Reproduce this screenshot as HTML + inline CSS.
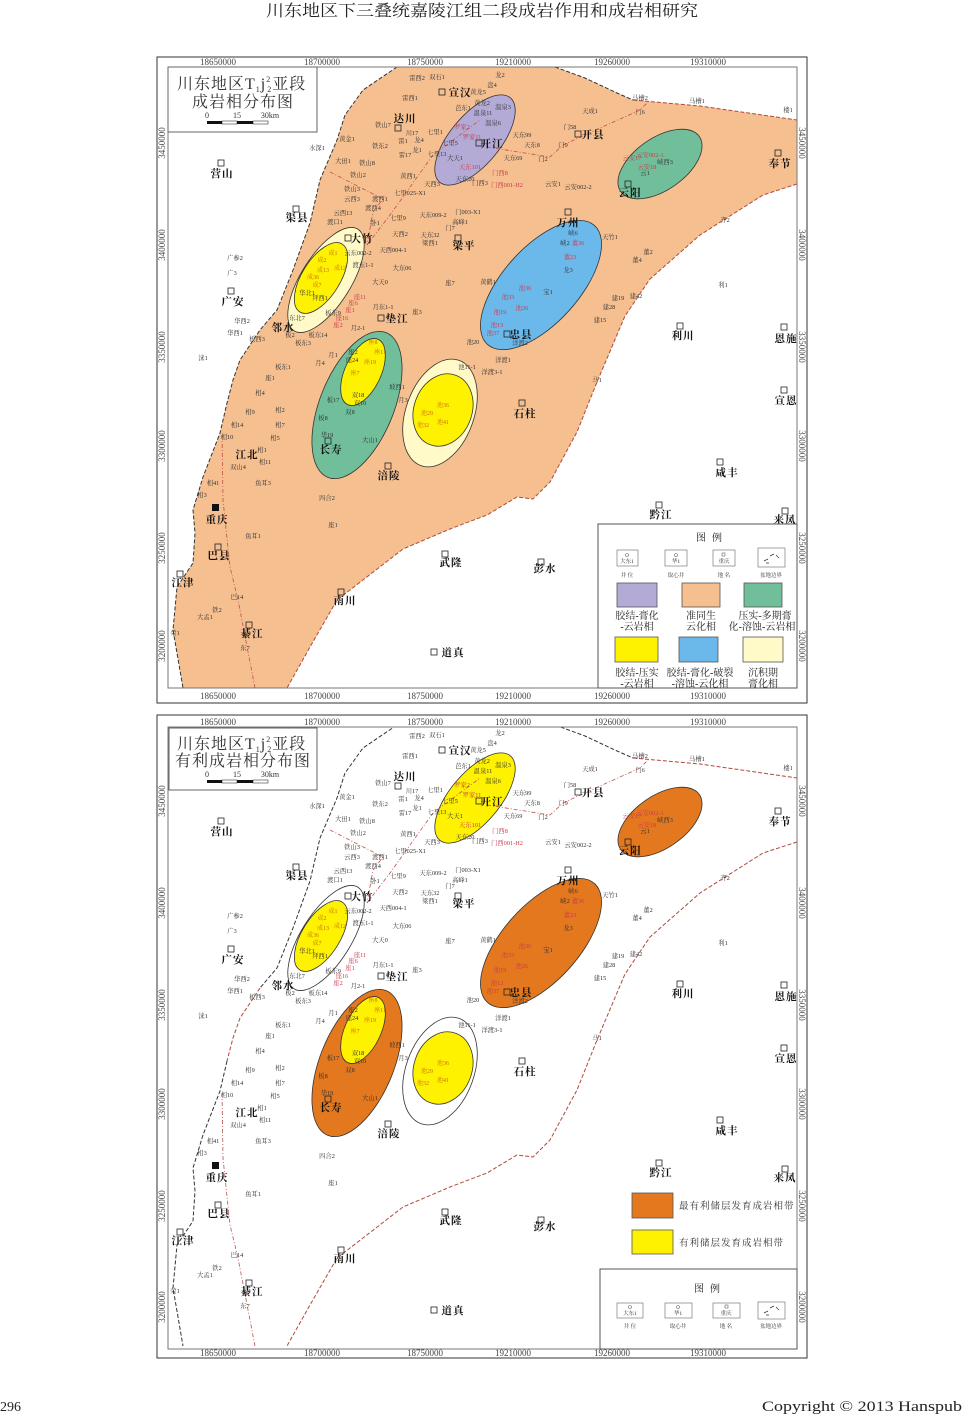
<!DOCTYPE html>
<html><head><meta charset="utf-8"><style>
html,body{margin:0;padding:0;background:#fff;}
svg{display:block;}
.w{font-size:6.3px;fill:#333;text-anchor:middle;}
.r{font-size:6.3px;fill:#cc3a4a;text-anchor:middle;}
.o{font-size:6px;fill:#c86a10;text-anchor:middle;}
.p{font-size:10.5px;fill:#111;text-anchor:middle;font-weight:700;letter-spacing:1px;}
.t{font-size:9px;fill:#444;text-anchor:middle;font-family:"Liberation Serif",serif;}
.lg{font-size:10px;fill:#222;text-anchor:middle;}
.sm{font-size:5.5px;fill:#333;text-anchor:middle;}
</style></head><body>
<svg width="964" height="1414" viewBox="0 0 964 1414" xmlns="http://www.w3.org/2000/svg" font-family="'Liberation Serif','Noto Serif CJK SC',serif">
<defs>
<clipPath id="c1"><rect x="168" y="67" width="629" height="621"/></clipPath>
<clipPath id="c2"><rect x="168" y="727" width="629" height="622"/></clipPath>
</defs>

<text x="482" y="16" text-anchor="middle" font-size="16" fill="#222" textLength="432" lengthAdjust="spacingAndGlyphs">川东地区下三叠统嘉陵江组二段成岩作用和成岩相研究</text>

<!-- ================= MAP 1 ================= -->
<rect x="157" y="57" width="650" height="646" fill="#fff" stroke="#333" stroke-width="1"/>
<g clip-path="url(#c1)">
<path d="M397,67 L555,67 L585,78 L617,93 L633,100 L700,106 L797,120 L797,184 L763,195 L700,235 L650,279 L625,316 L597,382 L577,432 L550,482 L533,499 L517,497 L487,515 L450,529 L403,549 L363,580 L337,600 L310,647 L287,688 L183,688 L173,630 L177,587 L193,563 L195,533 L193,510 L203,477 L220,433 L227,403 L233,380 L240,360 L260,330 L277,310 L293,270 L310,223 L320,180 L337,140 L345,115 L363,90 Z" fill="#F5BF90"/>
<polyline points="397,67 363,90 345,115 337,140 320,180 310,223 293,270 277,310 260,330 240,360 233,380 227,403 220,433 203,477 193,510 195,533 193,563 177,587 173,630 183,688" fill="none" stroke="#333" stroke-width="1" stroke-dasharray="4,2"/>
<polyline points="555,67 585,78 617,93 633,100" fill="none" stroke="#333" stroke-width="1" stroke-dasharray="4,2"/>
<polyline points="633,100 700,106 797,120" fill="none" stroke="#b04a3a" stroke-width="1" stroke-dasharray="4,2"/>
<polyline points="797,184 763,195 700,235 650,279 625,316 597,382 577,432 550,482 533,499 517,497 487,515 450,529 403,549 363,580 337,600 310,647 287,688" fill="none" stroke="#b04a3a" stroke-width="1" stroke-dasharray="4,2"/>
<ellipse cx="326" cy="280" rx="60" ry="25" transform="rotate(-58 326 280)" fill="#FFFAC8" stroke="#333" stroke-width="0.8"/>
<ellipse cx="321" cy="278" rx="40" ry="19" transform="rotate(-58 321 278)" fill="#FFF200" stroke="#333" stroke-width="0.8"/>
<ellipse cx="541" cy="285" rx="80" ry="38" transform="rotate(-48 541 285)" fill="#6BB8EA" stroke="#333" stroke-width="0.8"/>
<ellipse cx="357" cy="405" rx="78" ry="37" transform="rotate(-68 357 405)" fill="#70BE9A" stroke="#333" stroke-width="0.8"/>
<ellipse cx="363" cy="372" rx="36" ry="18" transform="rotate(-65 363 372)" fill="#FFF200" stroke="#333" stroke-width="0.8"/>
<ellipse cx="440" cy="413" rx="56" ry="34" transform="rotate(-70 440 413)" fill="#FFFAC8" stroke="#333" stroke-width="0.8"/>
<ellipse cx="443" cy="410" rx="37" ry="29" transform="rotate(-70 443 410)" fill="#FFF200" stroke="#333" stroke-width="0.8"/>
<ellipse cx="475" cy="140" rx="55" ry="25" transform="rotate(-50 475 140)" fill="#B3ABD6" stroke="#333" stroke-width="0.8"/>
<ellipse cx="660" cy="164" rx="48" ry="26" transform="rotate(-35 660 164)" fill="#70BE9A" stroke="#333" stroke-width="0.8"/>
<g fill="none" stroke="#c0504a" stroke-width="0.8" stroke-dasharray="4,2,1,2">
<polyline points="330,172 383,199 373,212 367,245"/>
<polyline points="367,245 390,215 433,155 480,120"/>
<polyline points="487,147 550,157 563,145 600,128 640,110 650,100"/>
<polyline points="222,435 223,500 230,567 238,600 255,688"/>
</g>
</g>
<rect x="168" y="67" width="629" height="621" fill="none" stroke="#777" stroke-width="1"/>

<g class="t">
<text x="218" y="65">18650000</text><text x="322" y="65">18700000</text><text x="425" y="65">18750000</text><text x="513" y="65">19210000</text><text x="612" y="65">19260000</text><text x="708" y="65">19310000</text>
<text x="218" y="699">18650000</text><text x="322" y="699">18700000</text><text x="425" y="699">18750000</text><text x="513" y="699">19210000</text><text x="612" y="699">19260000</text><text x="708" y="699">19310000</text>
<text transform="translate(165,143) rotate(-90)">3450000</text>
<text transform="translate(165,245) rotate(-90)">3400000</text>
<text transform="translate(165,347) rotate(-90)">3350000</text>
<text transform="translate(165,446) rotate(-90)">3300000</text>
<text transform="translate(165,548) rotate(-90)">3250000</text>
<text transform="translate(165,646) rotate(-90)">3200000</text>
<text transform="translate(799,143) rotate(90)">3450000</text>
<text transform="translate(799,245) rotate(90)">3400000</text>
<text transform="translate(799,347) rotate(90)">3350000</text>
<text transform="translate(799,446) rotate(90)">3300000</text>
<text transform="translate(799,548) rotate(90)">3250000</text>
<text transform="translate(799,646) rotate(90)">3200000</text>
</g>

<rect x="168" y="67" width="149" height="65" fill="#fff" stroke="#666" stroke-width="1"/>
<text x="177" y="89" font-size="16" fill="#333" letter-spacing="1">川东地区T<tspan font-size="8" dy="3">1</tspan><tspan dy="-3">j</tspan><tspan font-size="8" dy="-7">2</tspan><tspan font-size="8" dx="-4" dy="10">2</tspan><tspan dy="-3">亚段</tspan></text>
<text x="243" y="107" font-size="16" fill="#333" text-anchor="middle" letter-spacing="1">成岩相分布图</text>
<g>
<rect x="207" y="121" width="15" height="3" fill="#111"/><rect x="222" y="121" width="15" height="3" fill="#fff" stroke="#111" stroke-width="0.5"/><rect x="237" y="121" width="16" height="3" fill="#111"/><rect x="253" y="121" width="15" height="3" fill="#fff" stroke="#111" stroke-width="0.5"/>
<text x="207" y="118" font-size="8" fill="#333" text-anchor="middle">0</text><text x="237" y="118" font-size="8" fill="#333" text-anchor="middle">15</text><text x="270" y="118" font-size="8" fill="#333" text-anchor="middle">30km</text>
</g>

<g>
<text class="w" x="417" y="80">雷西2</text><text class="w" x="437" y="79">双石1</text><text class="w" x="410" y="100">雷西1</text><text class="w" x="383" y="127">铁山7</text><text class="w" x="412" y="135">川17</text><text class="w" x="435" y="134">七里1</text><text class="w" x="403" y="143">雷1</text><text class="w" x="419" y="142">龙4</text><text class="w" x="417" y="152">龙1</text><text class="w" x="405" y="157">雷17</text><text class="w" x="437" y="156">七里13</text><text class="w" x="450" y="145">七里5</text><text class="w" x="455" y="160">大天1</text><text class="w" x="347" y="141">黄金1</text><text class="w" x="380" y="148">铁东2</text><text class="w" x="317" y="150">水深1</text><text class="w" x="343" y="163">大田1</text><text class="w" x="367" y="165">铁山8</text><text class="w" x="358" y="177">铁山2</text><text class="w" x="408" y="178">黄西1</text><text class="w" x="432" y="186">天西3</text><text class="w" x="465" y="181">天东20</text><text class="w" x="480" y="185">门西3</text><text class="w" x="352" y="191">铁山3</text><text class="w" x="352" y="201">云西3</text><text class="w" x="410" y="195">七里025-X1</text><text class="w" x="380" y="201">渡西1</text><text class="w" x="373" y="210">渡西4</text><text class="w" x="343" y="215">云西13</text><text class="w" x="335" y="224">渡口1</text><text class="w" x="375" y="225">卧1</text><text class="w" x="398" y="220">七里9</text><text class="w" x="433" y="217">天东009-2</text><text class="w" x="468" y="214">门003-X1</text><text class="w" x="460" y="224">高峰1</text><text class="w" x="450" y="230">门7</text><text class="w" x="400" y="236">天西2</text><text class="w" x="430" y="237">天东32</text><text class="w" x="430" y="245">梁西1</text><text class="w" x="500" y="77">龙2</text><text class="w" x="492" y="87">盘4</text><text class="w" x="478" y="94">黄龙5</text><text class="w" x="463" y="110">芭东1</text><text class="w" x="482" y="105">黄龙2</text><text class="w" x="503" y="109">温泉3</text><text class="w" x="483" y="115">温泉11</text><text class="w" x="493" y="125">温泉6</text><text class="w" x="522" y="137">天东99</text><text class="w" x="532" y="147">天东8</text><text class="w" x="513" y="160">天东69</text><text class="w" x="543" y="161">门2</text><text class="w" x="640" y="100">马槽2</text><text class="w" x="697" y="103">马槽1</text><text class="w" x="788" y="112">楼1</text><text class="w" x="590" y="113">天成1</text><text class="w" x="640" y="114">门6</text><text class="w" x="570" y="129">门58</text><text class="w" x="563" y="147">门9</text><text class="w" x="578" y="189">云安002-2</text><text class="w" x="553" y="186">云安1</text><text class="w" x="725" y="222">齐2</text><text class="w" x="610" y="239">天竹1</text><text class="w" x="573" y="235">峡6</text><text class="w" x="565" y="245">峡2</text><text class="w" x="648" y="254">董2</text><text class="w" x="637" y="262">董4</text><text class="w" x="723" y="287">利1</text><text class="w" x="618" y="300">建19</text><text class="w" x="636" y="298">建42</text><text class="w" x="609" y="309">建28</text><text class="w" x="600" y="322">建15</text><text class="w" x="333" y="315">板东9</text><text class="w" x="318" y="337">板东14</text><text class="w" x="303" y="345">板东3</text><text class="w" x="333" y="357">月1</text><text class="w" x="320" y="365">月4</text><text class="w" x="283" y="369">板东1</text><text class="w" x="503" y="362">洋渡1</text><text class="w" x="492" y="374">洋渡3-1</text><text class="w" x="467" y="369">池11-1</text><text class="w" x="473" y="344">池20</text><text class="w" x="520" y="345">洋渡2</text><text class="w" x="397" y="389">坡西1</text><text class="w" x="403" y="402">月3</text><text class="w" x="370" y="442">大山1</text><text class="w" x="380" y="284">大天0</text><text class="w" x="402" y="270">大东06</text><text class="w" x="363" y="267">渡东1-1</text><text class="w" x="393" y="252">天西004-1</text><text class="w" x="358" y="255">云东002-2</text><text class="w" x="450" y="285">座7</text><text class="w" x="417" y="314">座3</text><text class="w" x="383" y="309">月东1-1</text><text class="w" x="358" y="330">月2-1</text><text class="w" x="297" y="320">东北7</text><text class="w" x="290" y="337">板2</text><text class="w" x="488" y="284">黄鹤1</text><text class="w" x="597" y="382">马1</text><text class="w" x="250" y="414">相9</text><text class="w" x="280" y="412">相2</text><text class="w" x="237" y="427">相14</text><text class="w" x="280" y="427">相7</text><text class="w" x="227" y="439">相10</text><text class="w" x="275" y="440">相5</text><text class="w" x="262" y="452">相1</text><text class="w" x="265" y="464">相11</text><text class="w" x="238" y="469">双山4</text><text class="w" x="213" y="485">相41</text><text class="w" x="202" y="497">相3</text><text class="w" x="263" y="485">鱼耳3</text><text class="w" x="327" y="500">四合2</text><text class="w" x="333" y="527">座1</text><text class="w" x="253" y="538">鱼耳1</text><text class="w" x="237" y="599">巴14</text><text class="w" x="217" y="612">铁2</text><text class="w" x="205" y="619">大孟1</text><text class="w" x="175" y="635">荣1</text><text class="w" x="245" y="650">东7</text><text class="w" x="235" y="260">广参2</text><text class="w" x="232" y="275">广3</text><text class="w" x="242" y="323">华西2</text><text class="w" x="235" y="335">华西1</text><text class="w" x="257" y="341">板西3</text><text class="w" x="203" y="360">涞1</text><text class="w" x="270" y="380">座1</text><text class="w" x="260" y="395">相4</text><text class="w" x="568" y="272">龙3</text><text class="w" x="548" y="294">宝1</text><text class="w" x="307" y="295">华北1</text><text class="w" x="320" y="300">拜西1</text><text class="w" x="353" y="354">座2</text><text class="w" x="352" y="362">座24</text><text class="w" x="358" y="397">双18</text><text class="w" x="360" y="405">双10</text><text class="w" x="350" y="414">双8</text><text class="w" x="333" y="402">板17</text><text class="w" x="323" y="420">板8</text><text class="w" x="327" y="437">华19</text><text class="w" x="665" y="164">峡西3</text><text class="w" x="645" y="175">云1</text>
<text class="r" x="525" y="290">池36</text><text class="r" x="508" y="299">池33</text><text class="r" x="500" y="314">池19</text><text class="r" x="522" y="310">池26</text><text class="r" x="497" y="327">池13</text><text class="r" x="493" y="335">池37</text><text class="r" x="578" y="245">董36</text><text class="r" x="570" y="259">董23</text><text class="r" x="360" y="299">座11</text><text class="r" x="353" y="305">座6</text><text class="r" x="350" y="312">座1</text><text class="r" x="342" y="320">座16</text><text class="r" x="338" y="327">座2</text><text class="r" x="470" y="169">天东101</text><text class="r" x="500" y="175">门西8</text><text class="r" x="507" y="187">门西001-H2</text><text class="r" x="462" y="129">罗家2</text><text class="r" x="472" y="139">罗家11</text><text class="r" x="650" y="157">云安002-1</text><text class="r" x="632" y="160">云安17</text><text class="r" x="647" y="169">云安18</text>
<text class="o" x="333" y="255">成1</text><text class="o" x="322" y="262">成2</text><text class="o" x="323" y="272">成13</text><text class="o" x="340" y="270">成12</text><text class="o" x="313" y="279">成36</text><text class="o" x="317" y="287">成7</text><text class="o" x="373" y="344">座8</text><text class="o" x="380" y="354">座11</text><text class="o" x="370" y="364">座19</text><text class="o" x="355" y="375">座7</text><text class="o" x="443" y="407">池36</text><text class="o" x="427" y="415">池29</text><text class="o" x="443" y="424">池41</text><text class="o" x="423" y="427">池32</text>
</g>

<g fill="none" stroke="#222" stroke-width="0.8">
<rect x="439" y="89" width="6" height="6"/><rect x="395" y="125" width="6" height="6"/><rect x="476" y="140" width="6" height="6"/><rect x="218" y="160" width="6" height="6"/><rect x="293" y="206" width="6" height="6"/><rect x="345" y="235" width="6" height="6"/><rect x="455" y="235" width="6" height="6"/><rect x="378" y="315" width="6" height="6"/><rect x="228" y="288" width="6" height="6"/><rect x="504" y="331" width="6" height="6"/><rect x="565" y="209" width="6" height="6"/><rect x="575" y="131" width="6" height="6"/><rect x="625" y="181" width="6" height="6"/><rect x="775" y="150" width="6" height="6"/><rect x="677" y="323" width="6" height="6"/><rect x="781" y="324" width="6" height="6"/><rect x="781" y="387" width="6" height="6"/><rect x="519" y="400" width="6" height="6"/><rect x="325" y="438" width="6" height="6"/><rect x="385" y="463" width="6" height="6"/><rect x="215" y="544" width="6" height="6"/><rect x="177" y="571" width="6" height="6"/><rect x="338" y="589" width="6" height="6"/><rect x="246" y="622" width="6" height="6"/><rect x="442" y="551" width="6" height="6"/><rect x="538" y="559" width="6" height="6"/><rect x="431" y="649" width="6" height="6"/><rect x="717" y="459" width="6" height="6"/><rect x="656" y="502" width="6" height="6"/><rect x="782" y="508" width="6" height="6"/>
</g>
<rect x="212" y="504" width="7" height="7" fill="#111"/>
<g class="p">
<text x="460" y="96">宣汉</text><text x="405" y="122">达川</text><text x="492" y="147">开江</text><text x="222" y="177">营山</text><text x="297" y="221">渠县</text><text x="362" y="242">大竹</text><text x="464" y="249">梁平</text><text x="397" y="322">垫江</text><text x="233" y="305">广安</text><text x="283" y="331">邻水</text><text x="521" y="338">忠县</text><text x="568" y="226">万州</text><text x="593" y="138">开县</text><text x="630" y="196">云阳</text><text x="780" y="167">奉节</text><text x="683" y="339">利川</text><text x="786" y="342">恩施</text><text x="786" y="404">宣恩</text><text x="525" y="417">石柱</text><text x="331" y="453">长寿</text><text x="389" y="479">涪陵</text><text x="247" y="458">江北</text><text x="217" y="523">重庆</text><text x="219" y="559">巴县</text><text x="183" y="586">江津</text><text x="345" y="604">南川</text><text x="252" y="637">綦江</text><text x="451" y="566">武隆</text><text x="545" y="572">彭水</text><text x="453" y="656">道真</text><text x="727" y="476">咸丰</text><text x="661" y="518">黔江</text><text x="785" y="523">来凤</text>
</g>

<rect x="598" y="524" width="199" height="164" fill="#fff" stroke="#555" stroke-width="1"/>
<text class="lg" x="712" y="541" letter-spacing="6">图例</text>
<g fill="#fff" stroke="#666" stroke-width="0.6">
<rect x="617" y="550" width="21" height="16"/><rect x="665" y="550" width="22" height="16"/><rect x="713" y="550" width="22" height="16"/><rect x="758" y="548" width="27" height="19"/>
<circle cx="627" cy="555" r="1.5"/><circle cx="676" cy="555" r="1.5"/><rect x="722" y="553" width="3" height="3"/>
</g>
<path d="M764,561 l4,-2 M770,556 l4,-2 M776,555 l3,3 M766,563 l3,0" stroke="#333" stroke-width="0.7" fill="none"/>
<text class="sm" x="627" y="563" font-size="4.5">大东1</text><text class="sm" x="676" y="563" font-size="4.5" fill="#c33">华1</text><text class="sm" x="724" y="563" font-size="4.5">重庆</text>
<text class="sm" x="627" y="577">井 位</text><text class="sm" x="676" y="577">取心井</text><text class="sm" x="724" y="577">地 名</text><text class="sm" x="771" y="577">盆地边界</text>
<rect x="617" y="583" width="40" height="24" fill="#B3ABD6" stroke="#555" stroke-width="0.8"/>
<rect x="682" y="583" width="38" height="24" fill="#F5BF90" stroke="#555" stroke-width="0.8"/>
<rect x="744" y="583" width="38" height="24" fill="#70BE9A" stroke="#555" stroke-width="0.8"/>
<rect x="615" y="637" width="43" height="25" fill="#FFF200" stroke="#555" stroke-width="0.8"/>
<rect x="679" y="637" width="39" height="25" fill="#6BB8EA" stroke="#555" stroke-width="0.8"/>
<rect x="743" y="637" width="40" height="25" fill="#FFFAC8" stroke="#555" stroke-width="0.8"/>
<g class="lg">
<text x="637" y="619">胶结-膏化</text><text x="637" y="630">-云岩相</text>
<text x="701" y="619">准同生</text><text x="701" y="630">云化相</text>
<text x="765" y="619">压实-多期膏</text><text x="762" y="630">化-溶蚀-云岩相</text>
<text x="637" y="676">胶结-压实</text><text x="637" y="687">-云岩相</text>
<text x="700" y="676">胶结-膏化-破裂</text><text x="700" y="687">-溶蚀-云化相</text>
<text x="763" y="676">沉积期</text><text x="763" y="687">膏化相</text>
</g>

<!-- ================= MAP 2 ================= -->
<rect x="157" y="715" width="650" height="643" fill="#fff" stroke="#333" stroke-width="1"/>
<g clip-path="url(#c2)">
<g transform="translate(0,658)">
<polyline points="397,67 363,90 345,115 337,140 320,180 310,223 293,270 277,310 260,330" fill="none" stroke="#333" stroke-width="1" stroke-dasharray="4,2"/>
<polyline points="260,330 240,360 233,380 227,403" fill="none" stroke="#b04a3a" stroke-width="1" stroke-dasharray="4,2"/>
<polyline points="227,403 220,433 203,477 193,510 195,533 193,563 177,587 173,630 183,688" fill="none" stroke="#333" stroke-width="1" stroke-dasharray="4,2"/>
<polyline points="555,67 585,78 617,93 633,100" fill="none" stroke="#333" stroke-width="1" stroke-dasharray="4,2"/>
<polyline points="633,100 700,106 797,120" fill="none" stroke="#b04a3a" stroke-width="1" stroke-dasharray="4,2"/>
<polyline points="797,184 763,195 700,235 650,279 625,316 597,382 577,432 550,482 533,499 517,497 487,515 450,529 403,549 363,580 337,600 310,647 287,688" fill="none" stroke="#b04a3a" stroke-width="1" stroke-dasharray="4,2"/>
<ellipse cx="326" cy="280" rx="60" ry="25" transform="rotate(-58 326 280)" fill="#fff" stroke="#333" stroke-width="0.8"/>
<ellipse cx="321" cy="278" rx="40" ry="19" transform="rotate(-58 321 278)" fill="#FFF200" stroke="#333" stroke-width="0.8"/>
<ellipse cx="541" cy="285" rx="80" ry="38" transform="rotate(-48 541 285)" fill="#E3781E" stroke="#333" stroke-width="0.8"/>
<ellipse cx="357" cy="405" rx="78" ry="37" transform="rotate(-68 357 405)" fill="#E3781E" stroke="#333" stroke-width="0.8"/>
<ellipse cx="363" cy="372" rx="36" ry="18" transform="rotate(-65 363 372)" fill="#FFF200" stroke="#333" stroke-width="0.8"/>
<ellipse cx="440" cy="413" rx="56" ry="34" transform="rotate(-70 440 413)" fill="#fff" stroke="#333" stroke-width="0.8"/>
<ellipse cx="443" cy="410" rx="37" ry="29" transform="rotate(-70 443 410)" fill="#FFF200" stroke="#333" stroke-width="0.8"/>
<ellipse cx="475" cy="140" rx="55" ry="25" transform="rotate(-50 475 140)" fill="#FFF200" stroke="#333" stroke-width="0.8"/>
<ellipse cx="660" cy="164" rx="48" ry="26" transform="rotate(-35 660 164)" fill="#E3781E" stroke="#333" stroke-width="0.8"/>
<g fill="none" stroke="#c0504a" stroke-width="0.8" stroke-dasharray="4,2,1,2">
<polyline points="330,172 383,199 373,212 367,245"/>
<polyline points="367,245 390,215 433,155 480,120"/>
<polyline points="487,147 550,157 563,145 600,128 640,110 650,100"/>
<polyline points="222,435 223,500 230,567 238,600 255,688"/>
</g>
<text class="w" x="417" y="80">雷西2</text><text class="w" x="437" y="79">双石1</text><text class="w" x="410" y="100">雷西1</text><text class="w" x="383" y="127">铁山7</text><text class="w" x="412" y="135">川17</text><text class="w" x="435" y="134">七里1</text><text class="w" x="403" y="143">雷1</text><text class="w" x="419" y="142">龙4</text><text class="w" x="417" y="152">龙1</text><text class="w" x="405" y="157">雷17</text><text class="w" x="437" y="156">七里13</text><text class="w" x="450" y="145">七里5</text><text class="w" x="455" y="160">大天1</text><text class="w" x="347" y="141">黄金1</text><text class="w" x="380" y="148">铁东2</text><text class="w" x="317" y="150">水深1</text><text class="w" x="343" y="163">大田1</text><text class="w" x="367" y="165">铁山8</text><text class="w" x="358" y="177">铁山2</text><text class="w" x="408" y="178">黄西1</text><text class="w" x="432" y="186">天西3</text><text class="w" x="465" y="181">天东20</text><text class="w" x="480" y="185">门西3</text><text class="w" x="352" y="191">铁山3</text><text class="w" x="352" y="201">云西3</text><text class="w" x="410" y="195">七里025-X1</text><text class="w" x="380" y="201">渡西1</text><text class="w" x="373" y="210">渡西4</text><text class="w" x="343" y="215">云西13</text><text class="w" x="335" y="224">渡口1</text><text class="w" x="375" y="225">卧1</text><text class="w" x="398" y="220">七里9</text><text class="w" x="433" y="217">天东009-2</text><text class="w" x="468" y="214">门003-X1</text><text class="w" x="460" y="224">高峰1</text><text class="w" x="450" y="230">门7</text><text class="w" x="400" y="236">天西2</text><text class="w" x="430" y="237">天东32</text><text class="w" x="430" y="245">梁西1</text><text class="w" x="500" y="77">龙2</text><text class="w" x="492" y="87">盘4</text><text class="w" x="478" y="94">黄龙5</text><text class="w" x="463" y="110">芭东1</text><text class="w" x="482" y="105">黄龙2</text><text class="w" x="503" y="109">温泉3</text><text class="w" x="483" y="115">温泉11</text><text class="w" x="493" y="125">温泉6</text><text class="w" x="522" y="137">天东99</text><text class="w" x="532" y="147">天东8</text><text class="w" x="513" y="160">天东69</text><text class="w" x="543" y="161">门2</text><text class="w" x="640" y="100">马槽2</text><text class="w" x="697" y="103">马槽1</text><text class="w" x="788" y="112">楼1</text><text class="w" x="590" y="113">天成1</text><text class="w" x="640" y="114">门6</text><text class="w" x="570" y="129">门58</text><text class="w" x="563" y="147">门9</text><text class="w" x="578" y="189">云安002-2</text><text class="w" x="553" y="186">云安1</text><text class="w" x="725" y="222">齐2</text><text class="w" x="610" y="239">天竹1</text><text class="w" x="573" y="235">峡6</text><text class="w" x="565" y="245">峡2</text><text class="w" x="648" y="254">董2</text><text class="w" x="637" y="262">董4</text><text class="w" x="723" y="287">利1</text><text class="w" x="618" y="300">建19</text><text class="w" x="636" y="298">建42</text><text class="w" x="609" y="309">建28</text><text class="w" x="600" y="322">建15</text><text class="w" x="333" y="315">板东9</text><text class="w" x="318" y="337">板东14</text><text class="w" x="303" y="345">板东3</text><text class="w" x="333" y="357">月1</text><text class="w" x="320" y="365">月4</text><text class="w" x="283" y="369">板东1</text><text class="w" x="503" y="362">洋渡1</text><text class="w" x="492" y="374">洋渡3-1</text><text class="w" x="467" y="369">池11-1</text><text class="w" x="473" y="344">池20</text><text class="w" x="520" y="345">洋渡2</text><text class="w" x="397" y="389">坡西1</text><text class="w" x="403" y="402">月3</text><text class="w" x="370" y="442">大山1</text><text class="w" x="380" y="284">大天0</text><text class="w" x="402" y="270">大东06</text><text class="w" x="363" y="267">渡东1-1</text><text class="w" x="393" y="252">天西004-1</text><text class="w" x="358" y="255">云东002-2</text><text class="w" x="450" y="285">座7</text><text class="w" x="417" y="314">座3</text><text class="w" x="383" y="309">月东1-1</text><text class="w" x="358" y="330">月2-1</text><text class="w" x="297" y="320">东北7</text><text class="w" x="290" y="337">板2</text><text class="w" x="488" y="284">黄鹤1</text><text class="w" x="597" y="382">马1</text><text class="w" x="250" y="414">相9</text><text class="w" x="280" y="412">相2</text><text class="w" x="237" y="427">相14</text><text class="w" x="280" y="427">相7</text><text class="w" x="227" y="439">相10</text><text class="w" x="275" y="440">相5</text><text class="w" x="262" y="452">相1</text><text class="w" x="265" y="464">相11</text><text class="w" x="238" y="469">双山4</text><text class="w" x="213" y="485">相41</text><text class="w" x="202" y="497">相3</text><text class="w" x="263" y="485">鱼耳3</text><text class="w" x="327" y="500">四合2</text><text class="w" x="333" y="527">座1</text><text class="w" x="253" y="538">鱼耳1</text><text class="w" x="237" y="599">巴14</text><text class="w" x="217" y="612">铁2</text><text class="w" x="205" y="619">大孟1</text><text class="w" x="175" y="635">荣1</text><text class="w" x="245" y="650">东7</text><text class="w" x="235" y="260">广参2</text><text class="w" x="232" y="275">广3</text><text class="w" x="242" y="323">华西2</text><text class="w" x="235" y="335">华西1</text><text class="w" x="257" y="341">板西3</text><text class="w" x="203" y="360">涞1</text><text class="w" x="270" y="380">座1</text><text class="w" x="260" y="395">相4</text><text class="w" x="568" y="272">龙3</text><text class="w" x="548" y="294">宝1</text><text class="w" x="307" y="295">华北1</text><text class="w" x="320" y="300">拜西1</text><text class="w" x="353" y="354">座2</text><text class="w" x="352" y="362">座24</text><text class="w" x="358" y="397">双18</text><text class="w" x="360" y="405">双10</text><text class="w" x="350" y="414">双8</text><text class="w" x="333" y="402">板17</text><text class="w" x="323" y="420">板8</text><text class="w" x="327" y="437">华19</text><text class="w" x="665" y="164">峡西3</text><text class="w" x="645" y="175">云1</text>
<text class="r" x="525" y="290">池36</text><text class="r" x="508" y="299">池33</text><text class="r" x="500" y="314">池19</text><text class="r" x="522" y="310">池26</text><text class="r" x="497" y="327">池13</text><text class="r" x="493" y="335">池37</text><text class="r" x="578" y="245">董36</text><text class="r" x="570" y="259">董23</text><text class="r" x="360" y="299">座11</text><text class="r" x="353" y="305">座6</text><text class="r" x="350" y="312">座1</text><text class="r" x="342" y="320">座16</text><text class="r" x="338" y="327">座2</text><text class="r" x="470" y="169">天东101</text><text class="r" x="500" y="175">门西8</text><text class="r" x="507" y="187">门西001-H2</text><text class="r" x="462" y="129">罗家2</text><text class="r" x="472" y="139">罗家11</text><text class="r" x="650" y="157">云安002-1</text><text class="r" x="632" y="160">云安17</text><text class="r" x="647" y="169">云安18</text>
<text class="o" x="333" y="255">成1</text><text class="o" x="322" y="262">成2</text><text class="o" x="323" y="272">成13</text><text class="o" x="340" y="270">成12</text><text class="o" x="313" y="279">成36</text><text class="o" x="317" y="287">成7</text><text class="o" x="373" y="344">座8</text><text class="o" x="380" y="354">座11</text><text class="o" x="370" y="364">座19</text><text class="o" x="355" y="375">座7</text><text class="o" x="443" y="407">池36</text><text class="o" x="427" y="415">池29</text><text class="o" x="443" y="424">池41</text><text class="o" x="423" y="427">池32</text>
<g fill="none" stroke="#222" stroke-width="0.8">
<rect x="439" y="89" width="6" height="6"/><rect x="395" y="125" width="6" height="6"/><rect x="476" y="140" width="6" height="6"/><rect x="218" y="160" width="6" height="6"/><rect x="293" y="206" width="6" height="6"/><rect x="345" y="235" width="6" height="6"/><rect x="455" y="235" width="6" height="6"/><rect x="378" y="315" width="6" height="6"/><rect x="228" y="288" width="6" height="6"/><rect x="504" y="331" width="6" height="6"/><rect x="565" y="209" width="6" height="6"/><rect x="575" y="131" width="6" height="6"/><rect x="625" y="181" width="6" height="6"/><rect x="775" y="150" width="6" height="6"/><rect x="677" y="323" width="6" height="6"/><rect x="781" y="324" width="6" height="6"/><rect x="781" y="387" width="6" height="6"/><rect x="519" y="400" width="6" height="6"/><rect x="325" y="438" width="6" height="6"/><rect x="385" y="463" width="6" height="6"/><rect x="215" y="544" width="6" height="6"/><rect x="177" y="571" width="6" height="6"/><rect x="338" y="589" width="6" height="6"/><rect x="246" y="622" width="6" height="6"/><rect x="442" y="551" width="6" height="6"/><rect x="538" y="559" width="6" height="6"/><rect x="431" y="649" width="6" height="6"/><rect x="717" y="459" width="6" height="6"/><rect x="656" y="502" width="6" height="6"/><rect x="782" y="508" width="6" height="6"/>
</g>
<rect x="212" y="504" width="7" height="7" fill="#111"/>
<g class="p">
<text x="460" y="96">宣汉</text><text x="405" y="122">达川</text><text x="492" y="147">开江</text><text x="222" y="177">营山</text><text x="297" y="221">渠县</text><text x="362" y="242">大竹</text><text x="464" y="249">梁平</text><text x="397" y="322">垫江</text><text x="233" y="305">广安</text><text x="283" y="331">邻水</text><text x="521" y="338">忠县</text><text x="568" y="226">万州</text><text x="593" y="138">开县</text><text x="630" y="196">云阳</text><text x="780" y="167">奉节</text><text x="683" y="339">利川</text><text x="786" y="342">恩施</text><text x="786" y="404">宣恩</text><text x="525" y="417">石柱</text><text x="331" y="453">长寿</text><text x="389" y="479">涪陵</text><text x="247" y="458">江北</text><text x="217" y="523">重庆</text><text x="219" y="559">巴县</text><text x="183" y="586">江津</text><text x="345" y="604">南川</text><text x="252" y="637">綦江</text><text x="451" y="566">武隆</text><text x="545" y="572">彭水</text><text x="453" y="656">道真</text><text x="727" y="476">咸丰</text><text x="661" y="518">黔江</text><text x="785" y="523">来凤</text>
</g>
</g>
</g>
<rect x="168" y="727" width="629" height="622" fill="none" stroke="#777" stroke-width="1"/>

<g class="t">
<text x="218" y="725">18650000</text><text x="322" y="725">18700000</text><text x="425" y="725">18750000</text><text x="513" y="725">19210000</text><text x="612" y="725">19260000</text><text x="708" y="725">19310000</text>
<text x="218" y="1356">18650000</text><text x="322" y="1356">18700000</text><text x="425" y="1356">18750000</text><text x="513" y="1356">19210000</text><text x="612" y="1356">19260000</text><text x="708" y="1356">19310000</text>
<text transform="translate(165,801) rotate(-90)">3450000</text>
<text transform="translate(165,903) rotate(-90)">3400000</text>
<text transform="translate(165,1005) rotate(-90)">3350000</text>
<text transform="translate(165,1104) rotate(-90)">3300000</text>
<text transform="translate(165,1206) rotate(-90)">3250000</text>
<text transform="translate(165,1307) rotate(-90)">3200000</text>
<text transform="translate(799,801) rotate(90)">3450000</text>
<text transform="translate(799,903) rotate(90)">3400000</text>
<text transform="translate(799,1005) rotate(90)">3350000</text>
<text transform="translate(799,1104) rotate(90)">3300000</text>
<text transform="translate(799,1206) rotate(90)">3250000</text>
<text transform="translate(799,1307) rotate(90)">3200000</text>
</g>

<rect x="169" y="728" width="148" height="62" fill="#fff" stroke="#666" stroke-width="1"/>
<text x="177" y="749" font-size="16" fill="#333" letter-spacing="1">川东地区T<tspan font-size="8" dy="3">1</tspan><tspan dy="-3">j</tspan><tspan font-size="8" dy="-7">2</tspan><tspan font-size="8" dx="-4" dy="10">2</tspan><tspan dy="-3">亚段</tspan></text>
<text x="243" y="766" font-size="16" fill="#333" text-anchor="middle" letter-spacing="1">有利成岩相分布图</text>
<g>
<rect x="207" y="780" width="15" height="3" fill="#111"/><rect x="222" y="780" width="15" height="3" fill="#fff" stroke="#111" stroke-width="0.5"/><rect x="237" y="780" width="16" height="3" fill="#111"/><rect x="253" y="780" width="15" height="3" fill="#fff" stroke="#111" stroke-width="0.5"/>
<text x="207" y="777" font-size="8" fill="#333" text-anchor="middle">0</text><text x="237" y="777" font-size="8" fill="#333" text-anchor="middle">15</text><text x="270" y="777" font-size="8" fill="#333" text-anchor="middle">30km</text>
</g>

<rect x="632" y="1193" width="41" height="25" fill="#E3781E" stroke="#555" stroke-width="0.8"/>
<rect x="632" y="1230" width="41" height="24" fill="#FFF200" stroke="#555" stroke-width="0.8"/>
<text x="679" y="1209" font-size="9.5" fill="#333" letter-spacing="1">最有利储层发育成岩相带</text>
<text x="679" y="1246" font-size="9.5" fill="#333" letter-spacing="1">有利储层发育成岩相带</text>
<rect x="600" y="1269" width="197" height="80" fill="#fff" stroke="#555" stroke-width="1"/>
<text class="lg" x="710" y="1292" letter-spacing="6">图例</text>
<g fill="#fff" stroke="#666" stroke-width="0.6">
<rect x="617" y="1303" width="26" height="15"/><rect x="665" y="1303" width="27" height="15"/><rect x="713" y="1303" width="27" height="15"/><rect x="758" y="1302" width="27" height="17"/>
<circle cx="630" cy="1307" r="1.5"/><circle cx="678" cy="1307" r="1.5"/><rect x="725" y="1305" width="3" height="3"/>
</g>
<path d="M764,1313 l4,-2 M770,1308 l4,-2 M776,1307 l3,3 M766,1315 l3,0" stroke="#333" stroke-width="0.7" fill="none"/>
<text class="sm" x="630" y="1315" font-size="4.5">大东1</text><text class="sm" x="678" y="1315" font-size="4.5" fill="#c33">华1</text><text class="sm" x="726" y="1315" font-size="4.5">重庆</text>
<text class="sm" x="630" y="1328">井 位</text><text class="sm" x="678" y="1328">取心井</text><text class="sm" x="726" y="1328">地 名</text><text class="sm" x="771" y="1328">盆地边界</text>

<text x="0" y="1411" font-size="14" fill="#222">296</text>
<text x="962" y="1411" font-size="15" fill="#222" text-anchor="end" textLength="200" lengthAdjust="spacingAndGlyphs">Copyright © 2013 Hanspub</text>
</svg>
</body></html>
